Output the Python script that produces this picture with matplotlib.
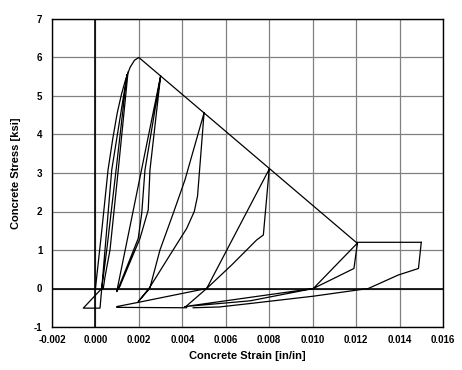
import numpy as np
import matplotlib
matplotlib.use('Agg')
import matplotlib.pyplot as plt

# ─────────────────────────────────────────────
# data (strain in/in, stress ksi)
# ─────────────────────────────────────────────
# backbone: ascending curve, linear softening, residual plateau
env_strain = [0.0, 0.0003, 0.00058, 0.0008, 0.0010, 0.0012, 0.0014, 0.0016,
              0.0018, 0.0020, 0.0030, 0.0050, 0.0080, 0.0120, 0.0150]
env_stress = [0.0, 1.55, 3.08, 3.90, 4.55, 5.05, 5.45, 5.75,
              5.93, 6.00, 5.52, 4.56, 3.12, 1.20, 1.20]

# cycles near 0.0015
c1_strain = [0.00145, 0.00095, 0.00052, 0.00029, 0.00021, -0.00056, 0.00029,
             0.00075, 0.00145]
c1_stress = [5.55, 3.08, 1.00, 0.00, -0.51, -0.51, 0.00, 3.08, 5.55]

c1b_strain = [0.00150, 0.00105, 0.00067, 0.00044, 0.00036]
c1b_stress = [5.62, 3.08, 1.00, 0.30, 0.00]

# cycles at 0.003
c2_strain = [0.0030, 0.00228, 0.00213, 0.00197, 0.00105, 0.00098,
             0.0030, 0.00251, 0.00243, 0.00205, 0.00112, 0.00100]
c2_stress = [5.52, 3.08, 1.95, 1.30, 0.00, -0.08,
             5.52, 3.08, 2.04, 1.30, 0.05, -0.05]

# cycle at 0.005
c3_strain = [0.0050, 0.0047, 0.00455, 0.0042, 0.00343, 0.0025, 0.00197,
             0.0025, 0.00297, 0.00358, 0.00412, 0.0050]
c3_stress = [4.56, 2.40, 2.00, 1.56, 0.87, 0.03, -0.34,
             0.00, 1.00, 1.95, 2.82, 4.56]

# cycle at 0.008
c4_strain = [0.0080, 0.00773, 0.00742, 0.00627, 0.00512, 0.0042, 0.0042,
             0.00098, 0.00098, 0.00197, 0.00512, 0.0080]
c4_stress = [3.10, 1.39, 1.26, 0.61, 0.00, -0.45, -0.50,
             -0.49, -0.47, -0.36, 0.00, 3.10]

# cycle at 0.012
c5_strain = [0.01206, 0.0119, 0.01003, 0.00712, 0.0041,
             0.00712, 0.01003, 0.01206]
c5_stress = [1.18, 0.52, 0.00, -0.23, -0.47,
             -0.32, 0.00, 1.18]

# final unloading from 0.015
c6_strain = [0.0150, 0.01487, 0.01394, 0.01256, 0.01003, 0.00712, 0.0057, 0.0045]
c6_stress = [1.20, 0.52, 0.35, 0.00, -0.20, -0.39, -0.48, -0.50]

x_ticks = [-0.002, 0.000, 0.002, 0.004, 0.006, 0.008, 0.010, 0.012, 0.014, 0.016]
y_ticks = [-1, 0, 1, 2, 3, 4, 5, 6, 7]

# ─────────────────────────────────────────────
# style
# ─────────────────────────────────────────────
plt.rcParams['font.family'] = ['Liberation Sans', 'DejaVu Sans']
plt.rcParams['axes.linewidth'] = 1.0

fig = plt.figure(figsize=(4.62, 3.70), dpi=100)
ax = fig.add_axes([52 / 462, 1 - 327 / 370, 391 / 462, 308 / 370])

# grid
for xv in x_ticks:
    ax.axvline(xv, color='#808080', linewidth=0.9, zorder=1)
for yv in y_ticks:
    ax.axhline(yv, color='#808080', linewidth=0.9, zorder=1)

# zero axes
ax.axvline(0, color='black', linewidth=1.2, zorder=2)
ax.axhline(0, color='black', linewidth=1.2, zorder=2)

# ─────────────────────────────────────────────
# curves
# ─────────────────────────────────────────────
curves = [
    (env_strain, env_stress),
    (c1_strain, c1_stress),
    (c1b_strain, c1b_stress),
    (c2_strain, c2_stress),
    (c3_strain, c3_stress),
    (c4_strain, c4_stress),
    (c5_strain, c5_stress),
    (c6_strain, c6_stress),
]
for xs, ys in curves:
    ax.plot(xs, ys, color='black', linewidth=0.9, zorder=3)

ax.set_xlim(-0.002, 0.016)
ax.set_ylim(-1, 7)
ax.set_xticks(x_ticks)
ax.set_xticklabels([f'{v:.3f}' for v in x_ticks])
ax.set_yticks(y_ticks)
ax.set_yticklabels([str(v) for v in y_ticks])
ax.tick_params(length=0, labelsize=7)
ax.tick_params(axis='x', pad=6)
ax.tick_params(axis='y', pad=7)
for lab in ax.get_xticklabels() + ax.get_yticklabels():
    lab.set_fontweight('bold')

ax.set_xlabel('Concrete Strain [in/in]', fontsize=8, fontweight='bold', labelpad=4)
ax.set_ylabel('Concrete Stress [ksi]', fontsize=8, fontweight='bold', labelpad=9)

for sp in ax.spines.values():
    sp.set_color('black')
    sp.set_zorder(4)

fig.savefig('out.png', dpi=100, facecolor='white')
